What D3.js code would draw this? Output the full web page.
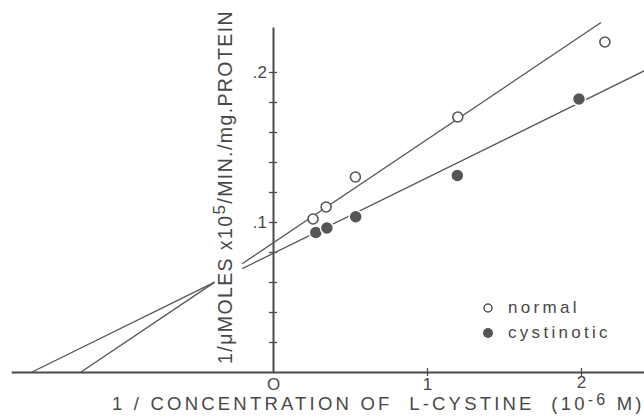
<!DOCTYPE html>
<html>
<head>
<meta charset="utf-8">
<script src="https://cdn.jsdelivr.net/npm/d3@7"></script>
<style>
  body { margin: 0; background: #fff; }
  svg text { font-family: "Liberation Sans", Arial, sans-serif; fill: #484848; }
</style>
</head>
<body>
<div id="chart"></div>
<script>
(function() {
  'use strict';

  // measured points (1/[S] in 10^-6 M, 1/v)
  var normalX = [0.26, 0.345, 0.535, 1.20, 2.155];
  var normalY = [0.102, 0.110, 0.130, 0.170, 0.220];
  var cystX = [0.278, 0.35, 0.537, 1.197, 1.987];
  var cystY = [0.093, 0.096, 0.1035, 0.131, 0.182];

  // fitted lines: intercept, slope, last x drawn
  var fitNames = ['normal', 'cystinotic'];
  var fitIntercepts = [0.086, 0.079];
  var fitSlopes = [0.069, 0.0505];
  var fitEnds = [2.13, 2.41];
  var gapEnd = -0.2; // lines resume after the axis title

  var yTicks = [0.02, 0.04, 0.06, 0.08, 0.1, 0.12, 0.14, 0.16, 0.18, 0.2];
  var xTicks = [0, 1, 2];

  var svgWidth = 644,
    svgHeight = 417,
    ink = '#4a4a4a';

  var svg = d3.select('#chart').append('svg')
    .attr('width', svgWidth)
    .attr('height', svgHeight);

  var x = d3.scaleLinear().domain([0, 2]).range([273, 581]);
  var y = d3.scaleLinear().domain([0, 0.2]).range([372, 72]);

  // x axis
  var xAxisScale = x.copy().domain([-1.7, 2.41]).range([x(-1.7), x(2.41)]);
  var xAxis = svg.append('g')
    .attr('transform', 'translate(0,' + y(0) + ')')
    .call(d3.axisBottom(xAxisScale).tickValues(xTicks).tickSize(4).tickSizeOuter(0)
      .tickFormat(function(d) { return d === 0 ? 'O' : d; }));
  xAxis.select('.domain').attr('stroke', ink).attr('stroke-width', 2);
  xAxis.selectAll('.tick line').attr('stroke', ink).attr('stroke-width', 1.3)
    .attr('y1', -4).attr('y2', 4)
    .attr('display', function(d) { return d === 0 ? 'none' : null; });
  xAxis.selectAll('.tick text')
    .attr('y', function(d) { return d === 2 ? 4 : 6; })
    .style('font-size', '17px')
    .style('font-family', '"Liberation Sans", Arial, sans-serif')
    .attr('fill', ink);

  // y axis
  var yAxisScale = y.copy().domain([0, 0.23]).range([y(0), y(0.23)]);
  var yAxis = svg.append('g')
    .attr('transform', 'translate(' + x(0) + ',0)')
    .call(d3.axisLeft(yAxisScale).tickValues(yTicks).tickSize(4).tickSizeOuter(0)
      .tickFormat(function(d) {
        if (Math.abs(d - 0.1) < 1e-9) return '.1';
        if (Math.abs(d - 0.2) < 1e-9) return '.2';
        return '';
      }));
  yAxis.select('.domain').attr('stroke', ink).attr('stroke-width', 2);
  yAxis.selectAll('.tick line').attr('stroke', ink).attr('stroke-width', 1.3)
    .attr('x1', -4).attr('x2', 4);
  yAxis.selectAll('.tick text')
    .attr('x', -6)
    .style('font-size', '17px')
    .style('font-family', '"Liberation Sans", Arial, sans-serif')
    .attr('fill', ink);

  // fitted lines, broken where the y title sits
  var line = d3.line()
    .x(function(d) { return x(d[0]); })
    .y(function(d) { return y(d[1]); });

  var cross = (fitIntercepts[0] - fitIntercepts[1]) / (fitSlopes[1] - fitSlopes[0]);

  fitNames.forEach(function(name, i) {
    var b = fitIntercepts[i], m = fitSlopes[i];
    var xInt = -b / m;
    var segs = [[xInt, cross], [gapEnd, fitEnds[i]]];
    segs.forEach(function(s) {
      svg.append('path')
        .attr('d', line([[s[0], b + m * s[0]], [s[1], b + m * s[1]]]))
        .attr('fill', 'none')
        .attr('stroke', '#555')
        .attr('stroke-width', 1.3);
    });
  });

  // points
  svg.selectAll('circle.normal')
    .data(d3.zip(normalX, normalY))
    .enter().append('circle')
    .attr('cx', function(d) { return x(d[0]); })
    .attr('cy', function(d) { return y(d[1]); })
    .attr('r', 5)
    .attr('fill', '#fff')
    .attr('stroke', '#555')
    .attr('stroke-width', 1.6);

  svg.selectAll('circle.cyst')
    .data(d3.zip(cystX, cystY))
    .enter().append('circle')
    .attr('cx', function(d) { return x(d[0]); })
    .attr('cy', function(d) { return y(d[1]); })
    .attr('r', 6.5)
    .attr('fill', '#555')
    .attr('stroke', '#fff')
    .attr('stroke-width', 1.5);

  // legend
  var legend = svg.append('g').attr('transform', 'translate(488,308)');
  legend.append('circle').attr('r', 4).attr('fill', '#fff')
    .attr('stroke', '#555').attr('stroke-width', 1.5);
  legend.append('circle').attr('cy', 25).attr('r', 5).attr('fill', '#555');
  legend.append('text').attr('x', 20).attr('y', 5)
    .style('font-size', '17px').style('letter-spacing', '3.3px').text('normal');
  legend.append('text').attr('x', 20).attr('y', 30)
    .style('font-size', '17px').style('letter-spacing', '3.3px').text('cystinotic');

  // x title
  var xt = svg.append('text')
    .attr('x', 112).attr('y', 410)
    .style('font-size', '18.5px')
    .style('letter-spacing', '3.2px');
  xt.append('tspan').text('1 / CONCENTRATION OF\u00a0 L-CYSTINE\u00a0 (10');
  xt.append('tspan').attr('dy', -5).style('font-size', '16px').text('-6');
  xt.append('tspan').attr('dy', 5).text(' M)');

  // y title
  var yt = svg.append('text')
    .attr('transform', 'translate(232,187) rotate(-90)')
    .attr('text-anchor', 'middle')
    .style('font-size', '19.5px')
    .style('letter-spacing', '1.4px');
  yt.append('tspan').text('1/\u03bcMOLES x10');
  yt.append('tspan').attr('dy', -7).style('font-size', '17px').text('5');
  yt.append('tspan').attr('dy', 7).text('/MIN./mg.PROTEIN');
})();
</script>
</body>
</html>
